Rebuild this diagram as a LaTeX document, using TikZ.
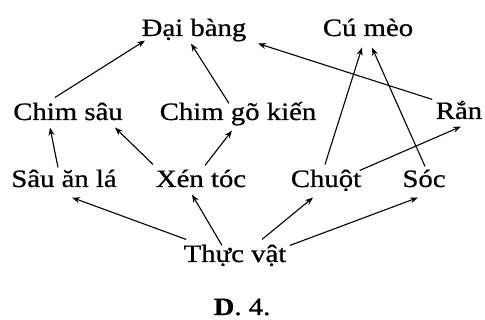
\documentclass[tikz,border=0pt]{standalone}
\usepackage{fontspec}
\setmainfont{Liberation Serif}[FakeStretch=1.15,FakeBold=0.8]
\usetikzlibrary{arrows.meta}
\begin{document}
\begin{tikzpicture}[x=1pt,y=1pt,>={Stealth[length=8pt,width=6pt]},line width=1.1pt]
\tikzset{loai/.style={anchor=base,inner sep=3pt,text height=13pt,text depth=4pt,font=\fontsize{25}{28}\selectfont}}
\useasboundingbox (0,0) rectangle (485,320);
% bac tren
\node[loai] (daibang) at (194,284) {Đại bàng};
\node[loai] (cumeo) at (368,284) {Cú mèo};
% bac giua
\node[loai] (chimsau) at (68,200) {Chim sâu};
\node[loai] (chimgo) at (238,200) {Chim gõ kiến};
\node[loai] (ran) at (459,201) {Rắn};
% bac duoi
\node[loai] (sau) at (64,133) {Sâu ăn lá};
\node[loai] (xentoc) at (201,133) {Xén tóc};
\node[loai] (chuot) at (326,133) {Chuột};
\node[loai] (soc) at (424,133) {Sóc};
\node[loai] (thucvat) at (235,58) {Thực vật};
\node[loai] (nhan) at (242,5) {\textbf{D}. 4.};
% mui ten
\draw[->] ([shift={(-13,6)}]chimsau.north) -- ([shift={(-49,3)}]daibang.south);
\draw[->] ([xshift=-9pt]chimgo.north) -- ([xshift=-3pt]daibang.south);
\draw[->] ([yshift=3pt]ran.north west) -- ([xshift=64pt]daibang.south);
\draw[->] ([shift={(-1,6)}]chuot.north) -- ([shift={(-6,-4)}]cumeo.south);
\draw[->] ([shift={(1,4)}]soc.north) -- ([shift={(4,-4)}]cumeo.south);
\draw[->] ([xshift=-5pt]chuot.north east) -- ([xshift=2pt]ran.south);
\draw[->] ([shift={(-6,3)}]sau.north) -- ([xshift=-18pt]chimsau.south);
\draw[->] ([shift={(-48,6)}]xentoc.north) -- ([xshift=47pt]chimsau.south);
\draw[->] ([shift={(4,5)}]xentoc.north) -- ([shift={(-6,-3)}]chimgo.south);
\draw[->] ([shift={(6,6)}]thucvat.north west) -- ([shift={(8,-3)}]sau.south);
\draw[->] ([xshift=-13pt]thucvat.north) -- ([xshift=-9pt]xentoc.south);
\draw[->] ([shift={(27,6)}]thucvat.north) -- ([shift={(-13,-3)}]chuot.south);
\draw[->] (thucvat.north east) -- ([shift={(-6,-3)}]soc.south);
\end{tikzpicture}
\end{document}
